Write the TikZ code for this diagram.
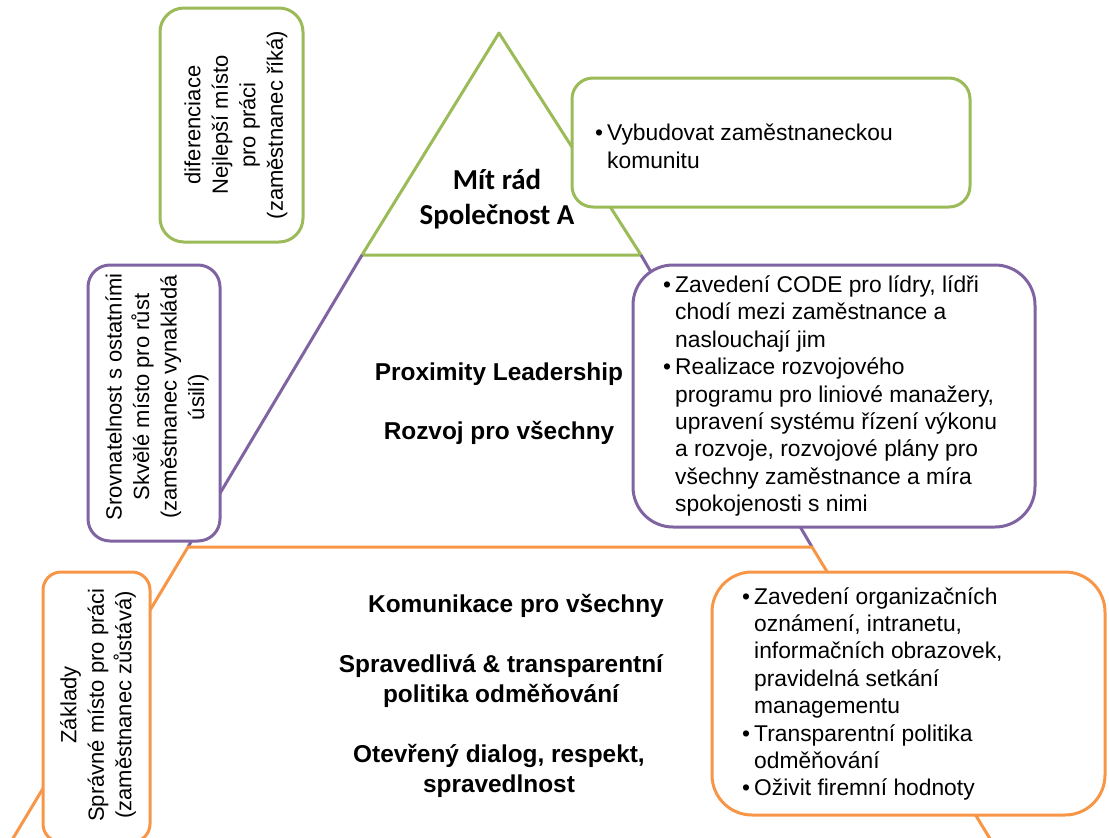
\documentclass[tikz,border=0pt]{standalone}
\usepackage{fontspec}
\setmainfont{Liberation Sans}
\newfontfamily\calibrifont{Carlito}
\definecolor{lvgreen}{HTML}{9BBB59}
\definecolor{lvpurple}{HTML}{8064A2}
\definecolor{lvorange}{HTML}{F79646}
\newcommand\bulletmark{\makebox[12pt][l]{•}}
\newcommand\hangspace{\hspace*{12pt}}
\begin{document}
\begin{tikzpicture}[x=1pt,y=-1pt,
  edge/.style={line width=3pt, line join=round},
  card/.style={line width=3pt, fill=white, inner sep=0pt},
  body/.style={font=\fontsize{22.8}{27.4}\selectfont, align=left, inner sep=0pt, anchor=west},
  side/.style={font=\fontsize{22}{27.5}\selectfont, align=center, rotate=90, inner sep=0pt},
  title/.style={font=\fontsize{24.4}{29.5}\selectfont\bfseries, align=center, inner sep=0pt}]
\useasboundingbox (0,0) rectangle (1109,838);
\clip (0,0) rectangle (1109,838);

% pyramid outline, one colour per level
\coordinate (apex) at (499,33);
\coordinate (gL) at (362,255);
\coordinate (gR) at (641,255);
\coordinate (pL) at (188,547);
\coordinate (pR) at (812,547);
\coordinate (oL) at (0,860);
\coordinate (oR) at (1003,860);
\draw[edge, lvgreen] (gL) -- (apex) -- (gR) -- cycle;
\draw[edge, lvpurple] (gL) -- (pL) (gR) -- (pR);
\draw[edge, lvorange] (oL) -- (pL) -- (pR) -- (oR);

% side cards
\node[card, draw=lvgreen, minimum width=143pt, minimum height=234pt, rounded corners=24pt] (b1) at (231.5,125) {};
\node[card, draw=lvgreen, minimum width=398pt, minimum height=129pt, rounded corners=21pt] (b2) at (771,142.5) {};
\node[card, draw=lvpurple, minimum width=132pt, minimum height=276pt, rounded corners=22pt] (b3) at (154,403) {};
\node[card, draw=lvpurple, minimum width=402pt, minimum height=262pt, rounded corners=40pt] (b4) at (834,396) {};
\node[card, draw=lvorange, minimum width=107pt, minimum height=270pt, rounded corners=18pt] (b5) at (96.5,707) {};
\node[card, draw=lvorange, minimum width=393pt, minimum height=243pt, rounded corners=40pt] (b6) at (908.5,693.5) {};

% rotated labels on the left
\node[side] (t1) at (236,125) {diferenciace\\Nejlepší místo\\pro práci\\(zaměstnanec říká)};
\node[side] (t3) at (157,397) {Srovnatelnost s ostatními\\Skvělé místo pro růst\\(zaměstnanec vynakládá\\úsilí)};
\node[side] (t5) at (98,705) {Základy\\Správné místo pro práci\\(zaměstnanec zůstává)};

% bullet lists on the right
\node[body] (t2) at (595,146.5) {\bulletmark Vybudovat zaměstnaneckou\\\hangspace komunitu};
\node[body] (t4) at (663,396) {\bulletmark Zavedení CODE pro lídry, lídři\\\hangspace chodí mezi zaměstnance a\\\hangspace naslouchají jim\\\bulletmark Realizace rozvojového\\\hangspace programu pro liniové manažery,\\\hangspace upravení systému řízení výkonu\\\hangspace a rozvoje, rozvojové plány pro\\\hangspace všechny zaměstnance a míra\\\hangspace spokojenosti s nimi};
\node[body] (t6) at (742,694) {\bulletmark Zavedení organizačních\\\hangspace oznámení, intranetu,\\\hangspace informačních obrazovek,\\\hangspace pravidelná setkání\\\hangspace managementu\\\bulletmark Transparentní politika\\\hangspace odměňování\\\bulletmark Oživit firemní hodnoty};

% level titles
\node[inner sep=0pt, align=center, font=\calibrifont\fontsize{28.9}{35}\selectfont\bfseries] (m1) at (497,199) {Mít rád\\Společnost A};
\node[title] (m2) at (499,374) {Proximity Leadership};
\node[title] (m3) at (499,433) {Rozvoj pro všechny};
\node[title] (m4) at (516,606) {Komunikace pro všechny};
\node[title] (m5) at (501,681) {Spravedlivá \& transparentní\\politika odměňování};
\node[title] (m6) at (499,771) {Otevřený dialog, respekt,\\spravedlnost};
\end{tikzpicture}
\end{document}
